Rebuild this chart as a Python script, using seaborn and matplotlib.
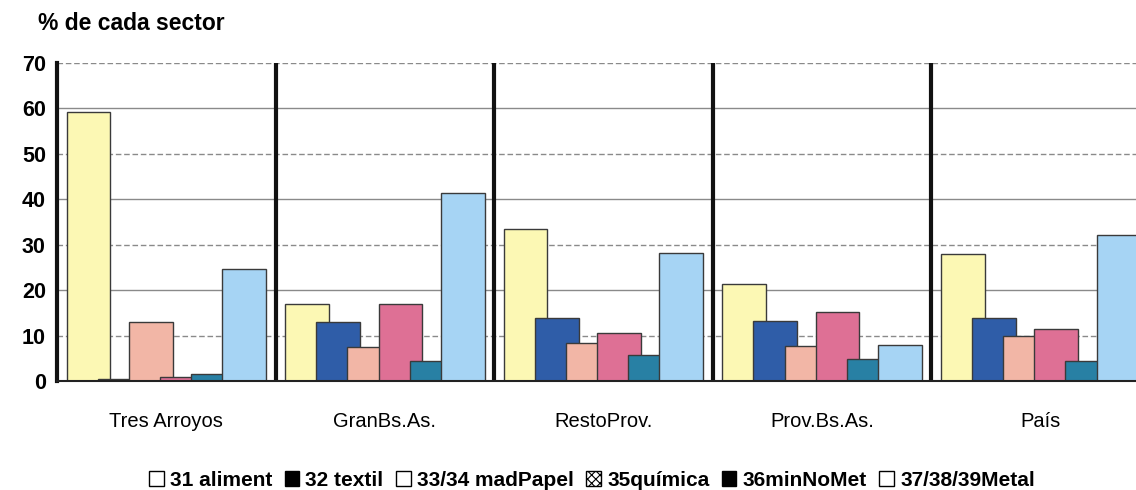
import numpy as np
import pandas as pd
import matplotlib
matplotlib.use("Agg")
import matplotlib.pyplot as plt
import seaborn as sns
from matplotlib.patches import Patch

regions = ["Tres Arroyos", "GranBs.As.", "RestoProv.", "Prov.Bs.As.", "País"]
sectors = ["31 aliment", "32 textil", "33/34 madPapel", "35química", "36minNoMet", "37/38/39Metal"]

aliment = [59.2, 16.9, 33.5, 21.4, 28.0]
textil = [0.4, 13.0, 13.9, 13.2, 13.9]
madpapel = [13.0, 7.4, 8.4, 7.7, 9.9]
quimica = [0.8, 16.9, 10.6, 15.2, 11.4]
minnomet = [1.5, 4.4, 5.7, 4.8, 4.5]
metal = [24.7, 41.4, 28.1, 7.9, 32.2]

colors = ["#FCF8B4", "#2F5DA8", "#F2B6A6", "#DE7095", "#2880A4", "#A6D4F4"]
legend_face = ["white", "black", "white", "white", "black", "white"]
legend_hatch = ["", "", "", "xxxx", "", ""]

values = [aliment, textil, madpapel, quimica, minnomet, metal]
rows = []
for s, vals in zip(sectors, values):
    for r, v in zip(regions, vals):
        rows.append({"region": r, "sector": s, "pct": v})
df = pd.DataFrame(rows)

sns.set_style("white")
plt.rcParams['font.family'] = ['Liberation Sans', 'DejaVu Sans']
plt.rcParams['text.color'] = 'black'
plt.rcParams['xtick.color'] = 'black'
plt.rcParams['ytick.color'] = 'black'
plt.rcParams['hatch.linewidth'] = 0.8

fig = plt.figure(figsize=(11.36, 4.9), dpi=100)
ax = fig.add_axes([0.0502, 0.2224, 0.962, 0.649])

sns.barplot(data=df, x="region", y="pct", hue="sector", order=regions,
            hue_order=sectors, palette=colors, saturation=1, width=0.855,
            dodge=True, edgecolor="#3a3a3a", linewidth=1.0, ax=ax, legend=False)

# widen bars so they overlap like the original
n = len(regions)
for i, bar in enumerate(ax.patches[:n * len(sectors)]):
    k = i // n
    cx = bar.get_x() + bar.get_width() / 2
    bar.set_width(0.2)
    bar.set_x(cx - 0.1)
    bar.set_zorder(3 + k)

ax.set_xlim(-0.5, 4.5)
ax.set_ylim(0, 70)
ax.set_yticks(range(0, 80, 10))
ax.set_yticklabels([str(v) for v in range(0, 80, 10)], fontsize=15.5, fontweight="bold")
ax.set_xticks(range(n))
ax.set_xticklabels(regions, fontsize=14.5)
ax.set_xticks(np.arange(-0.5, 4.6, 1), minor=True)
ax.tick_params(axis="x", which="major", length=0, pad=22, labelcolor="black")
ax.tick_params(axis="x", which="minor", length=5, width=0.8, direction="out", color="#666666")
ax.tick_params(axis="y", length=10, width=2, direction="inout", pad=3, color="#111111",
               labelcolor="black")
ax.set_xlabel("")
ax.set_ylabel("")

ax.yaxis.grid(True, color="#8a8a8a", linewidth=1.0, zorder=0)
for j, gl in enumerate(ax.get_ygridlines()):
    if j % 2 == 1:
        gl.set_linestyle((0, (4, 2)))
    gl.set_zorder(0.5)
ax.set_axisbelow(True)

for xb in np.arange(0.5, 4.5, 1):
    ax.axvline(xb, color="#111111", linewidth=3, zorder=2)

for side in ["top", "right"]:
    ax.spines[side].set_visible(False)
ax.spines["left"].set_linewidth(3)
ax.spines["left"].set_color("#111111")
ax.spines["bottom"].set_linewidth(1.5)
ax.spines["bottom"].set_color("#222222")
ax.spines["bottom"].set_zorder(20)

fig.text(38 / 1136, 1 - 24 / 490, "% de cada sector", fontsize=16.5,
         fontweight="bold", va="center", ha="left", color="black")

handles = [Patch(facecolor=f, edgecolor="black", hatch=h, linewidth=1.0)
           for f, h in zip(legend_face, legend_hatch)]
leg = fig.legend(handles, sectors, loc="center", bbox_to_anchor=(592 / 1136, 1 - 480 / 490),
                 ncol=6, frameon=False, handlelength=0.7, handleheight=0.7,
                 handletextpad=0.3, columnspacing=0.6, borderaxespad=0,
                 prop={"size": 15, "weight": "bold"})
for t in leg.get_texts():
    t.set_color("black")

fig.savefig("out.png", dpi=100)
